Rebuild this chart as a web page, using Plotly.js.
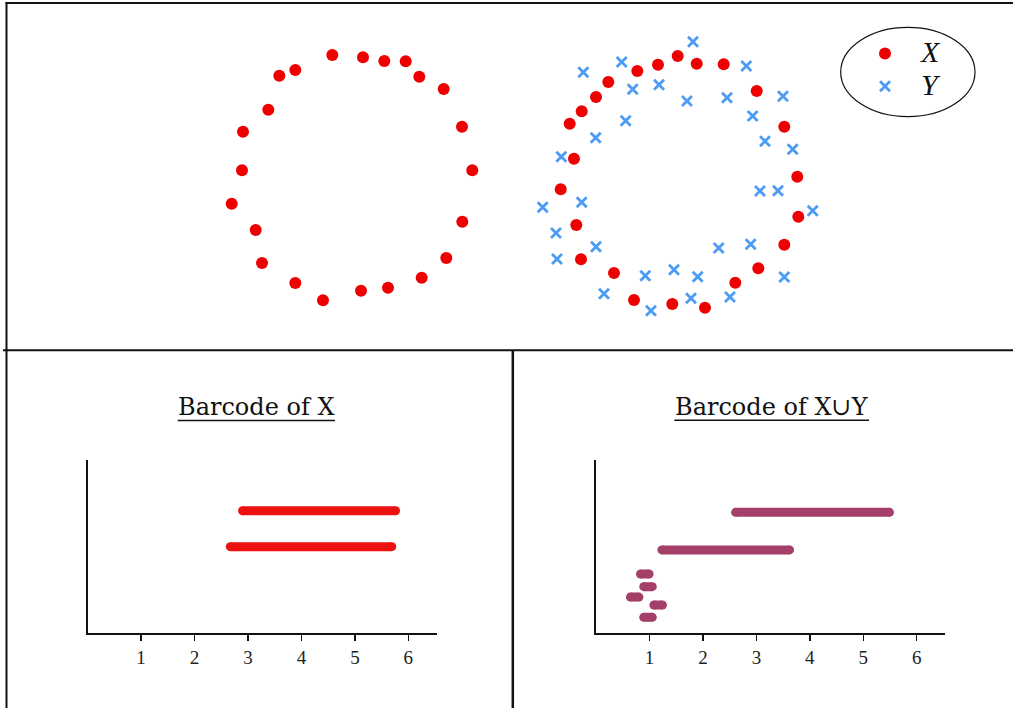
<!DOCTYPE html>
<html>
<head>
<meta charset="utf-8">
<script src="https://cdn.plot.ly/plotly-3.0.1.min.js"></script>
<style>html,body{margin:0;padding:0;background:#fff;}#chart{width:1013px;height:708px;}</style>
</head>
<body>
<div id="chart"></div>
<script>
// ---- Point cloud: X alone (left ring) ----
const ringX_x = [332.3,363,384.3,405.7,419.3,443.7,462,472.3,462.3,446.3,421.7,388,361,323,295.3,262,255.7,231.7,242,243,268.3,279.3,295.3];
const ringX_y = [55,57.3,61,61.3,76.7,89,126.7,170.3,221.7,258,277.7,287.7,290.7,300.3,283,263,230,203.7,170.3,131.7,109.7,75.7,70];

// ---- Point cloud: X in the union (right ring, circles) ----
const unionX_x = [677.7,696.7,723.7,658,637.3,608.3,596,581.7,569.7,756.7,784.3,797.3,798.3,784.3,758.3,735.3,705,672.3,634,614,581,576.3,560.7,574];
const unionX_y = [56,63.7,64.3,64.7,71,82,97,111.3,123.7,91,126.7,176.7,216.7,244.7,268.3,282.7,307.7,304,300,273,259.3,225,189.3,158.7];

// ---- Point cloud: Y (crosses) ----
const setY_x = [693,621.7,583.3,746.3,632.7,659,687,727,783,752.7,625.7,595.7,765,792.7,561.3,760,778,542.7,581.7,812.7,556,596,718.7,750.7,557,784.3,645.3,674,697.7,604,651,691,730];
const setY_y = [41.7,62,72.3,66,89.3,84.7,101,97.7,96.3,116,120.7,137.7,141.3,149.3,156.7,191,190.7,207.3,202.3,210.7,233,246.7,248,244.3,259,277,275.7,269.7,276.7,293.7,310.7,298.3,297];

// ---- Barcode of X ----
const birthsX = [2.90, 2.67];
const deathsX = [5.76, 5.69];
const levelsX = [7.07, 5.0];

// ---- Barcode of X∪Y ----
const birthsXY = [2.61, 1.23, 0.83, 0.89, 0.64, 1.08, 0.89];
const deathsXY = [5.49, 3.62, 0.99, 1.05, 0.80, 1.24, 1.05];
const levelsXY = [6.98, 4.81, 3.42, 2.69, 2.09, 1.63, 0.92];

const tickValues = [1, 2, 3, 4, 5, 6];
const tickLabels = ['1', '2', '3', '4', '5', '6'];

const W = 1013, H = 708;
const px = v => v / W;
const py = v => 1 - v / H;

function barSegments(b, d, h) {
  const x = [], y = [];
  for (let i = 0; i < b.length; i++) { x.push(b[i], d[i], null); y.push(h[i], h[i], null); }
  return {x, y};
}
const segX = barSegments(birthsX, deathsX, levelsX);
const segXY = barSegments(birthsXY, deathsXY, levelsXY);

const RED = '#ee0000', BLUE = '#4c9cf5', BARRED = '#ee1111', PURPLE = '#a33f68';

const traces = [
  {x: ringX_x, y: ringX_y, type: 'scatter', mode: 'markers', name: 'X', showlegend: false,
   marker: {color: RED, size: 12, symbol: 'circle'}, xaxis: 'x', yaxis: 'y'},
  {x: unionX_x, y: unionX_y, type: 'scatter', mode: 'markers', name: '<span style="font-size:30px">X</span>',
   marker: {color: RED, size: 12, symbol: 'circle'}, xaxis: 'x', yaxis: 'y'},
  {x: setY_x, y: setY_y, type: 'scatter', mode: 'markers', name: '<span style="font-size:30px">Y</span>',
   marker: {color: BLUE, size: 10, symbol: 'x-thin', line: {color: BLUE, width: 2.8}}, xaxis: 'x', yaxis: 'y'},
  {x: segX.x, y: segX.y, type: 'scatter', mode: 'lines+markers', showlegend: false, connectgaps: false,
   line: {color: BARRED, width: 9}, marker: {color: BARRED, size: 9}, xaxis: 'x2', yaxis: 'y2'},
  {x: segXY.x, y: segXY.y, type: 'scatter', mode: 'lines+markers', showlegend: false, connectgaps: false,
   line: {color: PURPLE, width: 9}, marker: {color: PURPLE, size: 9}, xaxis: 'x3', yaxis: 'y3'}
];

const tickFont = {family: 'Liberation Serif', size: 19, color: '#222'};
function barXAxis(dom, extra) {
  return Object.assign({domain: dom, range: [0, 6.53], showline: true, linewidth: 2, linecolor: '#111',
    ticks: 'outside', ticklen: 6, tickwidth: 1.5, tickcolor: '#111', tickmode: 'array',
    tickvals: tickValues, ticktext: tickLabels, showgrid: false, zeroline: false, tickfont: tickFont, fixedrange: true}, extra);
}
function barYAxis(anchor) {
  return {domain: [py(633.3), py(460)], range: [0, 10], anchor: anchor, showline: true, linewidth: 2, linecolor: '#111',
    showticklabels: false, ticks: '', showgrid: false, zeroline: false, fixedrange: true};
}
function innerTicks(dom, over, anchor) {
  return {domain: dom, range: [0, 6.53], overlaying: over, anchor: anchor, showline: false, ticks: 'inside', ticklen: 5,
    tickwidth: 1.5, tickcolor: '#111', tickmode: 'array', tickvals: tickValues, showticklabels: false,
    showgrid: false, zeroline: false, fixedrange: true};
}
const domL = [px(87.5), px(436.7)], domR = [px(596.2), px(945)];

const lineStyle = {color: '#111', width: 2};
const shapes = [
  {type: 'line', xref: 'paper', yref: 'paper', x0: px(5.5), x1: px(1013), y0: py(3), y1: py(3), line: lineStyle},
  {type: 'line', xref: 'paper', yref: 'paper', x0: px(6.5), x1: px(6.5), y0: py(2), y1: py(708), line: lineStyle},
  {type: 'line', xref: 'paper', yref: 'paper', x0: px(3), x1: px(1013), y0: py(350.2), y1: py(350.2), line: lineStyle},
  {type: 'line', xref: 'paper', yref: 'paper', x0: px(512.8), x1: px(512.8), y0: py(350), y1: py(708), line: {color: '#111', width: 2.5}},
  {type: 'circle', xref: 'paper', yref: 'paper', x0: px(840.7), x1: px(975), y0: py(27.3), y1: py(116.7), line: {color: '#111', width: 1.2}},
  {type: 'line', xref: 'paper', yref: 'paper', x0: px(177.7), x1: px(335), y0: py(420.6), y1: py(420.6), line: {color: '#111', width: 1.5}},
  {type: 'line', xref: 'paper', yref: 'paper', x0: px(674.3), x1: px(869), y0: py(420.3), y1: py(420.3), line: {color: '#111', width: 1.5}}
];

const titleFont = {family: 'DejaVu Serif', size: 24, color: '#111'};
const annotations = [
  {text: 'Barcode of X', xref: 'paper', yref: 'paper', x: px(256.5), y: py(407), xanchor: 'center', yanchor: 'middle', showarrow: false, font: titleFont},
  {text: 'Barcode of X∪Y', xref: 'paper', yref: 'paper', x: px(771.5), y: py(407), xanchor: 'center', yanchor: 'middle', showarrow: false, font: titleFont}
];

const layout = {
  width: W, height: H, margin: {l: 0, r: 0, t: 0, b: 0}, paper_bgcolor: '#fff', plot_bgcolor: 'rgba(0,0,0,0)',
  showlegend: true,
  legend: {x: px(849), y: py(32), xanchor: 'left', yanchor: 'top', bgcolor: 'rgba(0,0,0,0)', borderwidth: 0,
    itemwidth: 62, font: {family: 'Liberation Serif', size: 23, style: 'italic', color: '#111'}},
  xaxis: {domain: [0, 1], range: [0, W], visible: false, fixedrange: true},
  yaxis: {domain: [0, 1], range: [H, 0], visible: false, fixedrange: true},
  xaxis2: barXAxis(domL, {anchor: 'y2'}),
  yaxis2: barYAxis('x2'),
  xaxis3: barXAxis(domR, {anchor: 'y3'}),
  yaxis3: barYAxis('x3'),
  xaxis4: innerTicks(domL, 'x2', 'y2'),
  xaxis5: innerTicks(domR, 'x3', 'y3'),
  shapes: shapes, annotations: annotations
};

Plotly.newPlot('chart', traces, layout, {displayModeBar: false, staticPlot: true});
</script>
</body>
</html>
